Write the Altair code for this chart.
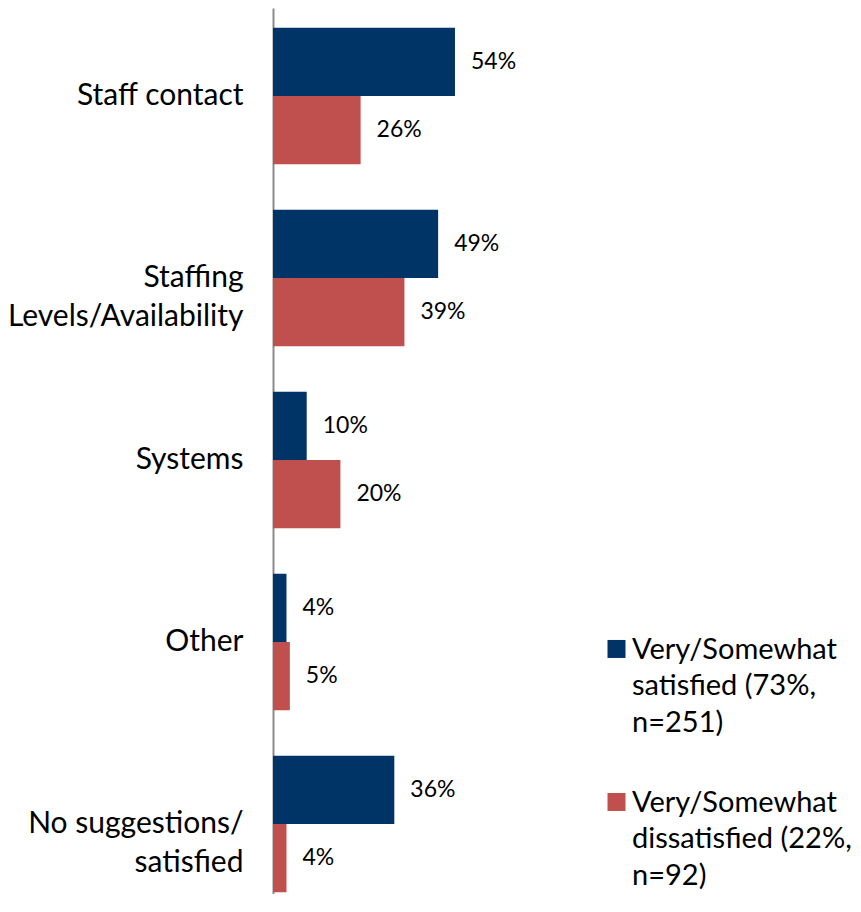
import altair as alt
import pandas as pd

# ---- data -------------------------------------------------------------
categories = ["Staff contact", "Staffing|Levels/Availability", "Systems", "Other",
              "No suggestions/|satisfied"]
series = ["Very/Somewhat|satisfied (73%,|n=251)",
          "Very/Somewhat|dissatisfied (22%,|n=92)"]
satisfied = [54, 49, 10, 4, 36]
dissatisfied = [26, 39, 20, 5, 4]
colors = ["#003366", "#C0504D"]

rows = []
for c, s, d in zip(categories, satisfied, dissatisfied):
    rows.append({"category": c, "series": series[0], "value": s, "label": f"{s}%"})
    rows.append({"category": c, "series": series[1], "value": d, "label": f"{d}%"})
df = pd.DataFrame(rows)

FONT = "Lato"

y_enc = alt.Y(
    "category:N", sort=categories, title=None,
    scale=alt.Scale(paddingInner=0.25, paddingOuter=0.0591, align=0.9186),
    axis=alt.Axis(labelExpr="split(datum.label, '|')", ticks=False,
                  domainColor="#8c8c8c", domainWidth=2, labelFontSize=30,
                  labelFont=FONT, labelColor="#000000", labelPadding=30,
                  labelLineHeight=39, labelLimit=300, grid=False),
)
yoff = alt.YOffset("series:N", sort=series,
                   scale=alt.Scale(paddingInner=0, paddingOuter=0))
x_enc = alt.X("value:Q", scale=alt.Scale(domain=[0, 100]), axis=None)

base = alt.Chart(df)

bars = base.mark_bar().encode(
    x=x_enc, y=y_enc, yOffset=yoff,
    color=alt.Color(
        "series:N", sort=series,
        scale=alt.Scale(domain=series, range=colors),
        legend=alt.Legend(
            orient="none", legendX=329, legendY=636, title=None,
            labelExpr="split(datum.label, '|')", labelFont=FONT,
            labelFontSize=29, labelBaseline="alphabetic",
            labelLimit=400, labelOffset=1, labelColor="#000000",
            symbolType="M-1,-2.06H1V-0.06H-1Z", symbolSize=324,
            symbolStrokeWidth=0, symbolOpacity=1, rowPadding=50, padding=0,
        ),
    ),
)

text = base.mark_text(align="left", baseline="middle", dx=16, font=FONT,
                      fontSize=23, color="#000000").encode(
    x=x_enc, y=y_enc, yOffset=yoff, text="label:N")

chart = alt.layer(bars, text).properties(
    width=337, height=886,
    autosize=alt.AutoSizeParams(type="none"),
    padding={"left": 265, "top": 0, "right": 243, "bottom": 0},
).configure(
    style={"guide-label": {"lineHeight": 36.5}}
).configure_view(stroke="transparent")

chart.save("out.html", embed_options={"renderer": "svg", "actions": False})
